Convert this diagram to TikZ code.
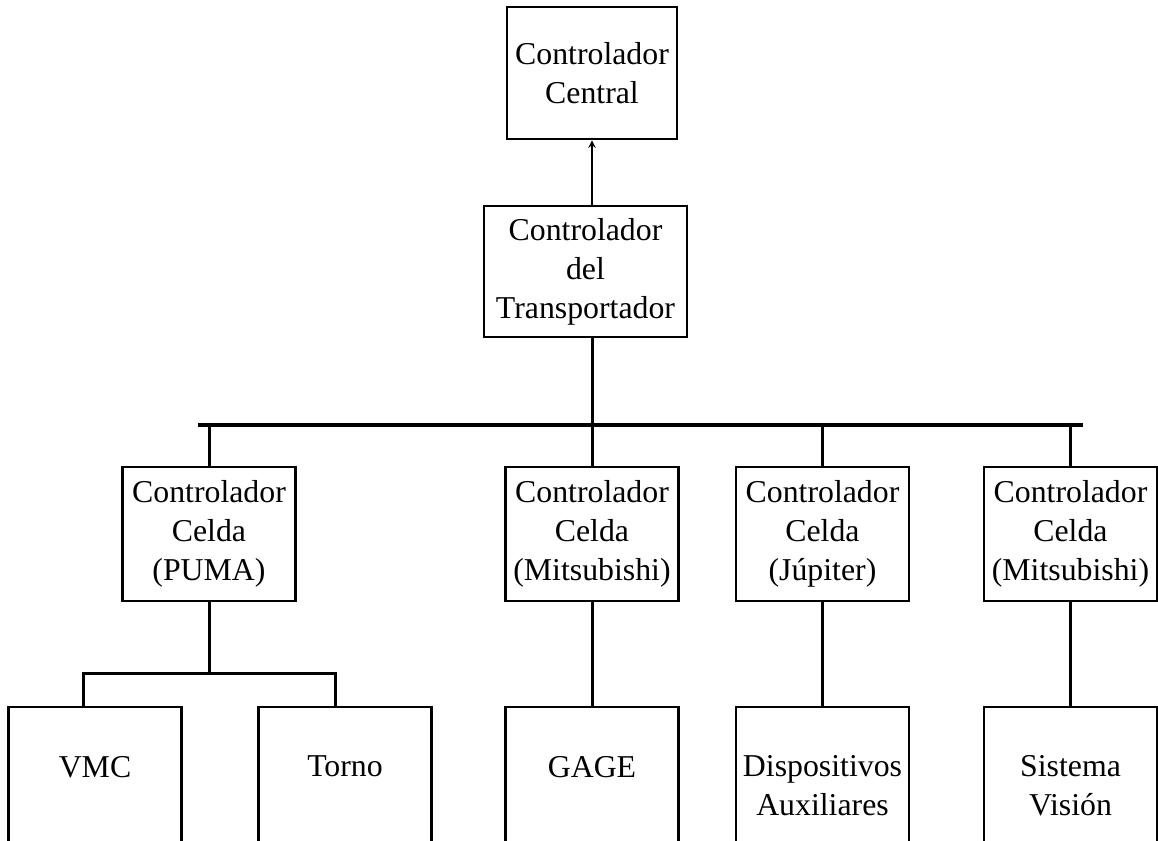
\documentclass[tikz,border=0pt]{standalone}
\usepackage{fontspec}
\setmainfont{Liberation Serif}
\usetikzlibrary{positioning}

\begin{document}
\begin{tikzpicture}[x=0.5pt,y=-0.5pt,
    box/.style={draw,line width=1.3pt,align=center,inner sep=0pt,
        font=\fontsize{15.9}{19.5}\selectfont,
        minimum width=86.5pt,minimum height=67pt},
    unit/.style={box,minimum height=79pt},
    link/.style={line width=1.5pt},
    bus/.style={line width=2pt}]
    \useasboundingbox (0,0) rectangle (1158,841);
    \clip (0,0) rectangle (1158,841);
    % top level
    \node[box,minimum width=85pt,minimum height=66pt] (central) at (592,73) {Controlador\\Central};
    \node[box,minimum width=101.5pt,minimum height=65.5pt] (trans) at (585.5,271.5) {Controlador\\del\\Transportador};
    % cell controllers
    \node[box] (puma)  at (209,534)    {Controlador\\Celda\\(PUMA)};
    \node[box] (mitsA) at (592,534)    {Controlador\\Celda\\(Mitsubishi)};
    \node[box] (jup)   at (822.5,534)  {Controlador\\Celda\\(Júpiter)};
    \node[box] (mitsB) at (1070.5,534) {Controlador\\Celda\\(Mitsubishi)};
    % devices
    \node[unit] (vmc)   at (95,786)     {VMC\\\mbox{}};
    \node[unit] (torno) at (345,786)    {Torno\\\mbox{}};
    \node[unit] (gage)  at (592,786)    {GAGE\\\mbox{}};
    \node[unit] (aux)   at (822.5,786)  {Dispositivos\\Auxiliares};
    \node[unit] (vis)   at (1070.5,786) {Sistema\\Visión};
    % buses
    \coordinate (busL) at (198,425);
    \coordinate (busR) at (1083,425);
    \coordinate (vmcT) at (83,673);
    \coordinate (torT) at (335,673);
    \coordinate (tx) at (trans.south -| central.south);
    \draw[->,>=stealth,line width=0.7pt] (trans.north -| central.south) -- (central.south);
    \draw[bus] (busL) -- (busR);
    \draw[link] (tx) -- (tx |- busL);
    \foreach \c in {puma,mitsA,jup,mitsB}
        \draw[link] (\c.north) -- (\c.north |- busL);
    \foreach \c/\d in {mitsA/gage,jup/aux,mitsB/vis}
        \draw[link] (\c.south) -- (\c.south |- \d.north);
    \draw[link] (puma.south) -- (puma.south |- vmcT);
    \draw[link] (vmc.north -| vmcT) -- (vmcT) -- (torT) -- (torno.north -| torT);
\end{tikzpicture}
\end{document}
